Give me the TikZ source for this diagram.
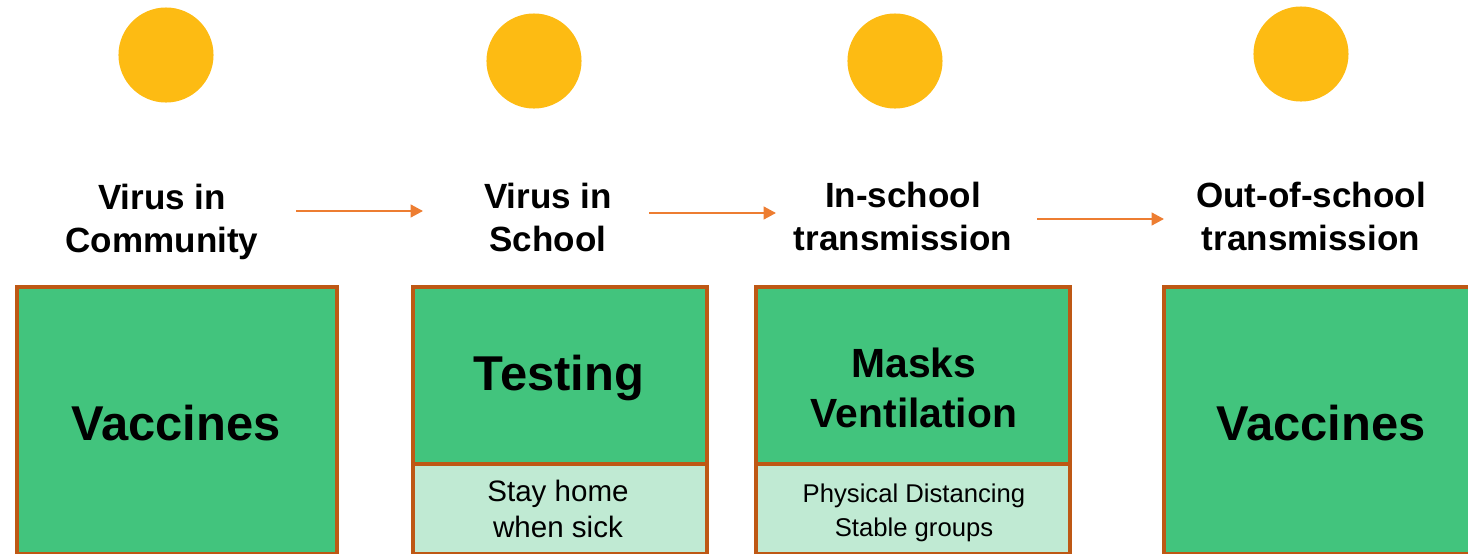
\documentclass[tikz,border=0pt]{standalone}
\usepackage{fontspec}
\setmainfont{Liberation Sans}
\usetikzlibrary{arrows.meta}

\definecolor{dotgold}{RGB}{253,187,19}
\definecolor{boxedge}{RGB}{190,88,20}
\definecolor{boxgreen}{RGB}{66,196,125}
\definecolor{boxpale}{RGB}{192,234,211}
\definecolor{flowarrow}{RGB}{237,125,49}

\tikzset{
  dot/.style={circle, fill=dotgold, draw=none, minimum size=0.95cm, inner sep=0pt},
  stage/.style={anchor=base, align=center, inner sep=0pt,
    font=\fontsize{9.96pt}{11.95pt}\selectfont\bfseries},
  panel/.style={draw=boxedge, line width=1.15pt, anchor=north west, inner sep=0pt},
  mainpanel/.style={panel, fill=boxgreen},
  subpanel/.style={panel, fill=boxpale},
  bigtext/.style={anchor=base, align=center, inner sep=0pt,
    font=\fontsize{13.9pt}{16pt}\selectfont\bfseries},
  midtext/.style={anchor=base, align=center, inner sep=0pt,
    font=\fontsize{11.6pt}{13.94pt}\selectfont\bfseries},
  smalltext/.style={anchor=base, align=center, inner sep=0pt},
  flow/.style={draw=flowarrow, line width=0.6pt,
    -{Triangle[length=3.5pt,width=3.6pt]}}
}

\begin{document}
\begin{tikzpicture}[x=0.01cm, y=-0.01cm]
  \useasboundingbox (0,0) rectangle (1468,554);

  % stage markers
  \node[dot] (d1) at (166,55) {};
  \node[dot] (d2) at (534,61) {};
  \node[dot] (d3) at (895,61) {};
  \node[dot] (d4) at (1301,54) {};

  % stage titles (positioned by the baseline of their last line)
  \node[stage] (t1) at (162,252) {Virus in\\Community};
  \node[stage] (t2) at (548,251) {Virus in\\School};
  \node[stage] (t3) at (903,250) {In-school\\transmission};
  \node[stage] (t4) at (1311,250) {Out-of-school\\transmission};

  % flow arrows between stages
  \coordinate (a1s) at (296,211);
  \coordinate (a1e) at (423,211);
  \coordinate (a2s) at (649,213);
  \coordinate (a2e) at (776,213);
  \coordinate (a3s) at (1037,219);
  \coordinate (a3e) at (1164,219);
  \draw[flow] (a1s) -- (a1e);
  \draw[flow] (a2s) -- (a2e);
  \draw[flow] (a3s) -- (a3e);

  % measure panels
  \node[mainpanel, minimum width=3.20cm, minimum height=2.67cm] (p1) at (15,285) {};
  \node[mainpanel, minimum width=2.94cm, minimum height=1.77cm] (p2) at (411,285) {};
  \node[subpanel, minimum width=2.94cm, minimum height=0.90cm] (q2) at (411,462) {};
  \node[mainpanel, minimum width=3.14cm, minimum height=1.77cm] (p3) at (754,285) {};
  \node[subpanel, minimum width=3.14cm, minimum height=0.90cm] (q3) at (754,462) {};
  \node[mainpanel, minimum width=3.30cm, minimum height=2.67cm] (p4) at (1162,285) {};

  % panel texts
  \node[bigtext] (v1) at (176,440) {Vaccines};
  \node[bigtext] (tst) at (559,390) {Testing};
  \node[midtext] (mv) at (914,427) {Masks\\Ventilation};
  \node[smalltext, font=\fontsize{8.4pt}{9.96pt}\selectfont] (sh) at (558,537) {Stay home\\when sick};
  \node[smalltext, font=\fontsize{7.3pt}{9.5pt}\selectfont] (pd) at (914,536) {Physical Distancing\\Stable groups};
  \node[bigtext] (v4) at (1321,440) {Vaccines};
\end{tikzpicture}
\end{document}
